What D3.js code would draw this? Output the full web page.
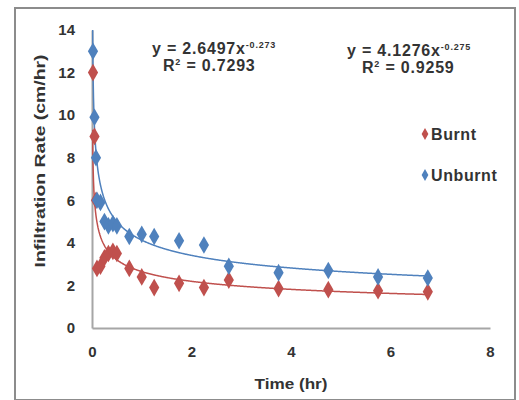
<!DOCTYPE html>
<html>
<head>
<meta charset="utf-8">
<script src="https://cdn.jsdelivr.net/npm/d3@7"></script>
<style>
  body { margin: 0; background: #fff; }
  text { font-family: "Liberation Sans", Arial, sans-serif; fill: #333; }
</style>
</head>
<body>
<div id="chart"></div>
<script>
// time (hr) of each reading
const timeHr = [0.02, 0.05, 0.08, 0.1, 0.17, 0.25, 0.33, 0.42, 0.5, 0.75, 1.0, 1.25, 1.75, 2.25, 2.75, 3.75, 4.75, 5.75, 6.75]
const burnt = [12, 9, 6, 2.8, 2.9, 3.3, 3.5, 3.6, 3.5, 2.8, 2.4, 1.9, 2.1, 1.9, 2.25, 1.85, 1.8, 1.75, 1.7]
const unburnt = [13, 9.9, 8, 6, 5.9, 5.0, 4.8, 4.9, 4.8, 4.3, 4.4, 4.3, 4.1, 3.9, 2.9, 2.6, 2.7, 2.4, 2.35]

// power trendlines y = a * x^b
const burntFit = { a: 2.6497, b: -0.273, r2: "0.7293" }
const unburntFit = { a: 4.1276, b: -0.275, r2: "0.9259" }

const xTicks = [0, 2, 4, 6, 8]
const yTicks = [0, 2, 4, 6, 8, 10, 12, 14]

const red = "#C0504D", blue = "#4F81BD"

const width = 519, height = 400
const svg = d3.select("#chart").append("svg")
    .attr("width", width)
    .attr("height", height)

// outer chart border
svg.append("rect")
    .attr("x", 15).attr("y", 8)
    .attr("width", 500).attr("height", 392)
    .attr("fill", "none")
    .attr("stroke", "#8c8c8c")
    .attr("stroke-width", 2)

const x = d3.scaleLinear().domain([0, 8]).range([92, 490])
const y = d3.scaleLinear().domain([0, 14]).range([328, 30])

const clip = svg.append("clipPath").attr("id", "plot")
clip.append("rect").attr("x", 92).attr("y", 30).attr("width", 398).attr("height", 298)

// axes
const xAxis = svg.append("g")
    .attr("transform", "translate(0,328)")
    .call(d3.axisBottom(x).tickValues(xTicks).tickSize(0).tickPadding(18))
const yAxis = svg.append("g")
    .attr("transform", "translate(92,0)")
    .call(d3.axisLeft(y).tickValues(yTicks).tickSize(0).tickPadding(17))

;[xAxis, yAxis].forEach(g => {
    g.select(".domain").attr("stroke", "#a6a6a6").attr("stroke-width", 2)
    g.selectAll("text")
        .style("font-size", "15px")
        .style("font-weight", "bold")
        .attr("fill", "#333")
})

svg.append("text")
    .attr("x", 291).attr("y", 389)
    .attr("text-anchor", "middle")
    .attr("textLength", 73)
    .attr("lengthAdjust", "spacingAndGlyphs")
    .style("font-size", "15px").style("font-weight", "bold")
    .text("Time (hr)")

svg.append("text")
    .attr("transform", "translate(45,161) rotate(-90)")
    .attr("text-anchor", "middle")
    .attr("textLength", 213)
    .attr("lengthAdjust", "spacingAndGlyphs")
    .style("font-size", "15px").style("font-weight", "bold")
    .text("Infiltration Rate (cm/hr)")

// trendlines, sampled along x
const fitX = d3.range(0.01, 6.76, 0.01)
const line = d3.line().x(d => x(d[0])).y(d => y(d[1]))

;[[burntFit, red], [unburntFit, blue]].forEach(([f, c]) => {
    svg.append("path")
        .attr("clip-path", "url(#plot)")
        .datum(fitX.map(t => [t, f.a * Math.pow(t, f.b)]))
        .attr("d", line)
        .attr("fill", "none")
        .attr("stroke", c)
        .attr("stroke-width", 1.5)
})

// markers
const diamond = d3.symbol().type(d3.symbolDiamond).size(90)

const drawSeries = (vals, c) => {
    svg.append("g").selectAll("path")
        .data(vals)
        .enter()
        .append("path")
        .attr("d", diamond)
        .attr("transform", (d, i) => `translate(${x(timeHr[i])},${y(d)})`)
        .attr("fill", c)
}
drawSeries(burnt, red)
drawSeries(unburnt, blue)

// equation labels
const eq = (lx, ly, rx, f) => {
    const t = svg.append("text")
        .attr("x", lx).attr("y", ly)
        .style("font-size", "16px").style("font-weight", "bold")
        .style("letter-spacing", "0.8px")
    t.append("tspan").text(`y = ${f.a}x`)
    t.append("tspan").attr("dy", -6).style("font-size", "9px").text(`${f.b}`)
    const r = svg.append("text")
        .attr("x", rx).attr("y", ly + 17)
        .style("font-size", "16px").style("font-weight", "bold")
        .style("letter-spacing", "0.8px")
    r.append("tspan").text("R")
    r.append("tspan").attr("dy", -6).style("font-size", "9px").text("2")
    r.append("tspan").attr("dy", 6).text(` = ${f.r2}`)
}
eq(152, 54, 163, burntFit)
eq(347, 56, 362, unburntFit)

// legend
const legend = [["Burnt", red, 134], ["Unburnt", blue, 175]]
legend.forEach(([name, c, ly]) => {
    svg.append("path")
        .attr("d", d3.symbol().type(d3.symbolDiamond).size(40))
        .attr("transform", `translate(425,${ly})`)
        .attr("fill", c)
    svg.append("text")
        .attr("x", 431).attr("y", ly + 6)
        .style("font-size", "16px").style("font-weight", "bold")
        .style("letter-spacing", "0.6px")
        .text(name)
})
</script>
</body>
</html>
